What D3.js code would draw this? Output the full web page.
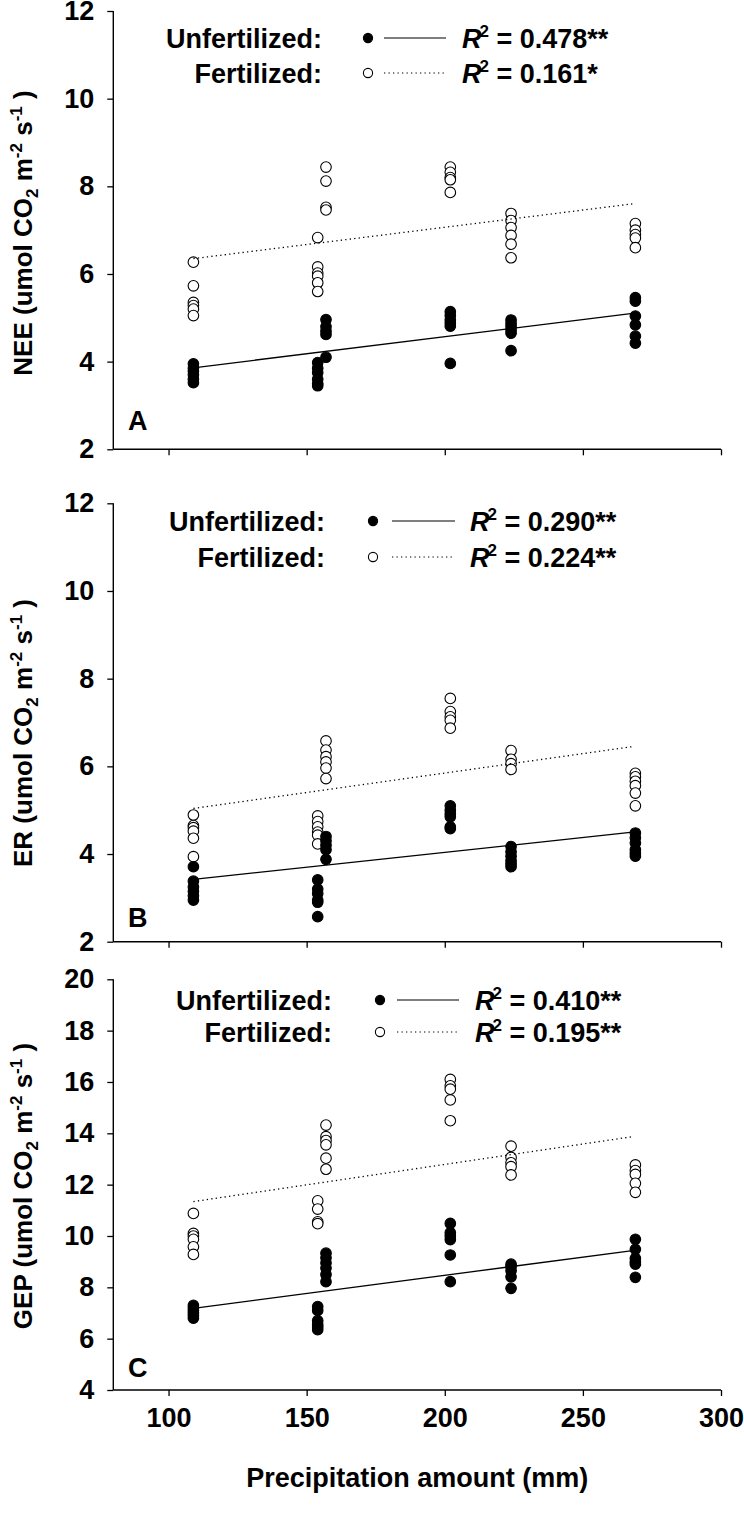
<!DOCTYPE html>
<html>
<head>
<meta charset="utf-8">
<script src="https://cdn.jsdelivr.net/npm/d3@7"></script>
<style>
  html, body { margin: 0; padding: 0; background: #fff; }
  svg { display: block; font-family: "Liberation Sans", Arial, sans-serif; }
</style>
</head>
<body>
<svg id="chart" width="744" height="1517"></svg>
<script>
// ---------------- DATA ----------------
const precip = [109, 154, 157, 202, 224, 269];   // precipitation amount (mm)
const xTicks = [100, 150, 200, 250, 300];

// NEE (panel A)
const neeUnfert = [
  [3.95, 3.85, 3.78, 3.70, 3.60, 3.52],
  [3.98, 3.85, 3.75, 3.60, 3.50, 3.45],
  [4.96, 4.80, 4.70, 4.62, 4.10],
  [5.14, 5.05, 4.95, 4.88, 4.81, 3.96],
  [4.95, 4.87, 4.80, 4.72, 4.65, 4.25],
  [5.46, 5.38, 5.04, 4.84, 4.58, 4.42]
];
const neeFert = [
  [6.27, 5.73, 5.35, 5.28, 5.20, 5.05],
  [6.83, 6.16, 6.02, 5.95, 5.80, 5.60],
  [8.44, 8.12, 7.52, 7.46],
  [8.44, 8.32, 8.20, 8.15, 7.86],
  [7.38, 7.22, 7.06, 6.88, 6.68, 6.37],
  [7.15, 7.00, 6.90, 6.82, 6.60]
];
// ER (panel B)
const erUnfert = [
  [3.71, 3.38, 3.25, 3.15, 3.05, 2.95],
  [3.41, 3.20, 3.10, 2.95, 2.90, 2.57],
  [4.40, 4.30, 4.20, 4.10, 3.88],
  [5.10, 5.00, 4.92, 4.85, 4.62, 4.58],
  [4.17, 4.05, 3.95, 3.85, 3.78, 3.71],
  [4.48, 4.37, 4.25, 4.10, 4.02, 3.95]
];
const erFert = [
  [4.89, 4.65, 4.60, 4.52, 4.36, 3.94],
  [4.87, 4.74, 4.62, 4.50, 4.43, 4.23],
  [6.58, 6.37, 6.22, 6.10, 5.96, 5.72],
  [7.55, 7.25, 7.13, 7.05, 6.87],
  [6.36, 6.16, 6.06, 5.93],
  [5.84, 5.76, 5.66, 5.56, 5.39, 5.10]
];
// GEP (panel C)
const gepUnfert = [
  [7.30, 7.20, 7.10, 7.00, 6.90, 6.80],
  [7.25, 7.10, 6.70, 6.55, 6.45, 6.35],
  [9.33, 9.15, 8.95, 8.75, 8.50, 8.22],
  [10.49, 10.13, 10.00, 9.86, 9.26, 8.22],
  [8.90, 8.80, 8.65, 8.41, 7.96],
  [9.87, 9.48, 9.13, 9.00, 8.90, 8.39]
];
const gepFert = [
  [10.88, 10.10, 10.00, 9.87, 9.58, 9.28],
  [11.37, 11.05, 10.55, 10.48],
  [14.32, 13.87, 13.72, 13.55, 13.03, 12.60],
  [16.10, 15.85, 15.72, 15.30, 14.49],
  [13.50, 13.06, 12.85, 12.70, 12.38],
  [12.77, 12.55, 12.40, 12.05, 11.70]
];

// fitted regression lines: values at the two ends of the precipitation range
const fitRange = [109, 268];
const fitUnfert = [[3.86, 5.10], [3.42, 4.50], [7.18, 9.43]];
const fitFert   = [[6.35, 7.60], [5.04, 6.45], [11.34, 13.87]];

const r2Unfert = ["0.478**", "0.290**", "0.410**"];
const r2Fert   = ["0.161*", "0.224**", "0.195**"];

const yDomains = [[2, 12], [2, 12], [4, 20]];
const yNames = ["NEE", "ER", "GEP"];
const panelLetters = ["A", "B", "C"];
const legendNames = ["Unfertilized:", "Fertilized:"];
const xTitle = "Precipitation amount (mm)";

// ---------------- LAYOUT ----------------
const xLeft = 113.3, xRight = 721;
const panels = [
  { top: 11,    bottom: 449.3, titleY: 233, letterDy: 19,
    leg: { textX: 322, markerX: 368, line: [384, 446], rX: 462, rows: [48, 83] } },
  { top: 503.3, bottom: 941.7, titleY: 733, letterDy: 15,
    leg: { textX: 325, markerX: 373, line: [392, 455], rX: 470, rows: [531, 567] } },
  { top: 979.3, bottom: 1390,  titleY: 1186, letterDy: 13,
    leg: { textX: 332, markerX: 380, line: [397, 459], rX: 475, rows: [1010, 1042] } }
];
const FS = 27;
const R = 5.3;

const seriesSets = [
  [neeUnfert, neeFert],
  [erUnfert, erFert],
  [gepUnfert, gepFert]
];

const svg = d3.select("#chart");
const x = d3.scaleLinear().domain([80, 300]).range([xLeft, xRight]);

panels.forEach((p, i) => {
  const y = d3.scaleLinear().domain(yDomains[i]).range([p.bottom, p.top]);
  const g = svg.append("g");

  // axes
  const yAxis = d3.axisLeft(y)
    .tickValues(d3.range(yDomains[i][0], yDomains[i][1] + 0.01, 2))
    .tickSize(6).tickPadding(13).tickFormat(d3.format("d"));
  const ya = g.append("g").attr("transform", `translate(${xLeft},0)`).call(yAxis);
  const xAxis = d3.axisBottom(x).tickValues(xTicks).tickSize(6).tickPadding(12)
    .tickFormat(i === 2 ? d3.format("d") : () => "");
  const xa = g.append("g").attr("transform", `translate(0,${p.bottom})`).call(xAxis);
  [ya, xa].forEach(a => {
    a.selectAll(".tick line").attr("stroke", "#000").attr("stroke-width", 1.3);
    a.selectAll("text").attr("fill", "#000").attr("font-size", FS)
      .attr("font-weight", "bold").attr("font-family", "Liberation Sans, Arial, sans-serif");
  });
  ya.select(".domain").remove();
  xa.select(".domain").remove();
  g.append("line").attr("x1", xLeft).attr("x2", xLeft).attr("y1", y.range()[1]).attr("y2", y.range()[0])
    .attr("stroke", "#000").attr("stroke-width", 1.4);
  g.append("line").attr("x1", xLeft).attr("x2", x.range()[1]).attr("y1", p.bottom).attr("y2", p.bottom)
    .attr("stroke", "#000").attr("stroke-width", 1.4);
  xa.selectAll(".tick text").attr("dy", "0.71em");

  // points: fertilized (open) first, then unfertilized (filled)
  const [unf, fer] = seriesSets[i];
  const flat = (arr) => arr.flatMap((vals, k) => vals.map(v => ({ px: precip[k], v })));
  g.append("g").selectAll("circle").data(flat(fer)).join("circle")
    .attr("cx", d => x(d.px)).attr("cy", d => y(d.v)).attr("r", R)
    .attr("fill", "#fff").attr("stroke", "#000").attr("stroke-width", 1.1);
  g.append("g").selectAll("circle").data(flat(unf)).join("circle")
    .attr("cx", d => x(d.px)).attr("cy", d => y(d.v)).attr("r", R)
    .attr("fill", "#000").attr("stroke", "#000").attr("stroke-width", 1.1);

  // regression lines
  const line = d3.line().x(d => x(d[0])).y(d => y(d[1]));
  g.append("path").datum(fitRange.map((px, k) => [px, fitUnfert[i][k]]))
    .attr("d", line).attr("fill", "none").attr("stroke", "#000").attr("stroke-width", 1.3);
  g.append("path").datum(fitRange.map((px, k) => [px, fitFert[i][k]]))
    .attr("d", line).attr("fill", "none").attr("stroke", "#000").attr("stroke-width", 1.3)
    .attr("stroke-dasharray", "1.3,3.2");

  // legend
  const L = p.leg;
  const r2 = [r2Unfert[i], r2Fert[i]];
  legendNames.forEach((name, k) => {
    const by = L.rows[k];
    g.append("text").attr("x", L.textX).attr("y", by).attr("text-anchor", "end")
      .attr("font-size", FS).attr("font-weight", "bold").text(name);
    g.append("circle").attr("cx", L.markerX).attr("cy", by - 10).attr("r", 4.6)
      .attr("fill", k === 0 ? "#000" : "#fff").attr("stroke", "#000").attr("stroke-width", 1.1);
    const ln = g.append("line").attr("x1", L.line[0]).attr("x2", L.line[1])
      .attr("y1", by - 10).attr("y2", by - 10).attr("stroke", "#000").attr("stroke-width", 1.2);
    if (k === 1) ln.attr("stroke-dasharray", "1.3,3.2");
    const t = g.append("text").attr("x", L.rX).attr("y", by)
      .attr("font-size", FS).attr("font-weight", "bold");
    t.append("tspan").attr("font-style", "italic").text("R");
    t.append("tspan").attr("font-size", 17).attr("dy", -11).attr("dx", -2).text("2");
    t.append("tspan").attr("dy", 11).text(" = " + r2[k]);
  });

  // panel letter
  g.append("text").attr("x", 128).attr("y", p.bottom - p.letterDy)
    .attr("font-size", FS).attr("font-weight", "bold").text(panelLetters[i]);

  // y title
  const yt = g.append("text")
    .attr("transform", `translate(32,${p.titleY}) rotate(-90)`)
    .attr("text-anchor", "middle").attr("font-size", FS - 1).attr("font-weight", "bold");
  yt.append("tspan").text(yNames[i] + " (umol CO");
  yt.append("tspan").attr("font-size", 17).attr("dy", 6).text("2");
  yt.append("tspan").attr("dy", -6).text(" m");
  yt.append("tspan").attr("font-size", 17).attr("dy", -10).text("-2");
  yt.append("tspan").attr("dy", 10).text(" s");
  yt.append("tspan").attr("font-size", 17).attr("dy", -10).text("-1");
  yt.append("tspan").attr("dy", 10).text(" )");
});

// x title
svg.append("text").attr("x", (xLeft + xRight) / 2).attr("y", 1487)
  .attr("text-anchor", "middle").attr("font-size", FS).attr("font-weight", "bold")
  .text(xTitle);
</script>
</body>
</html>
